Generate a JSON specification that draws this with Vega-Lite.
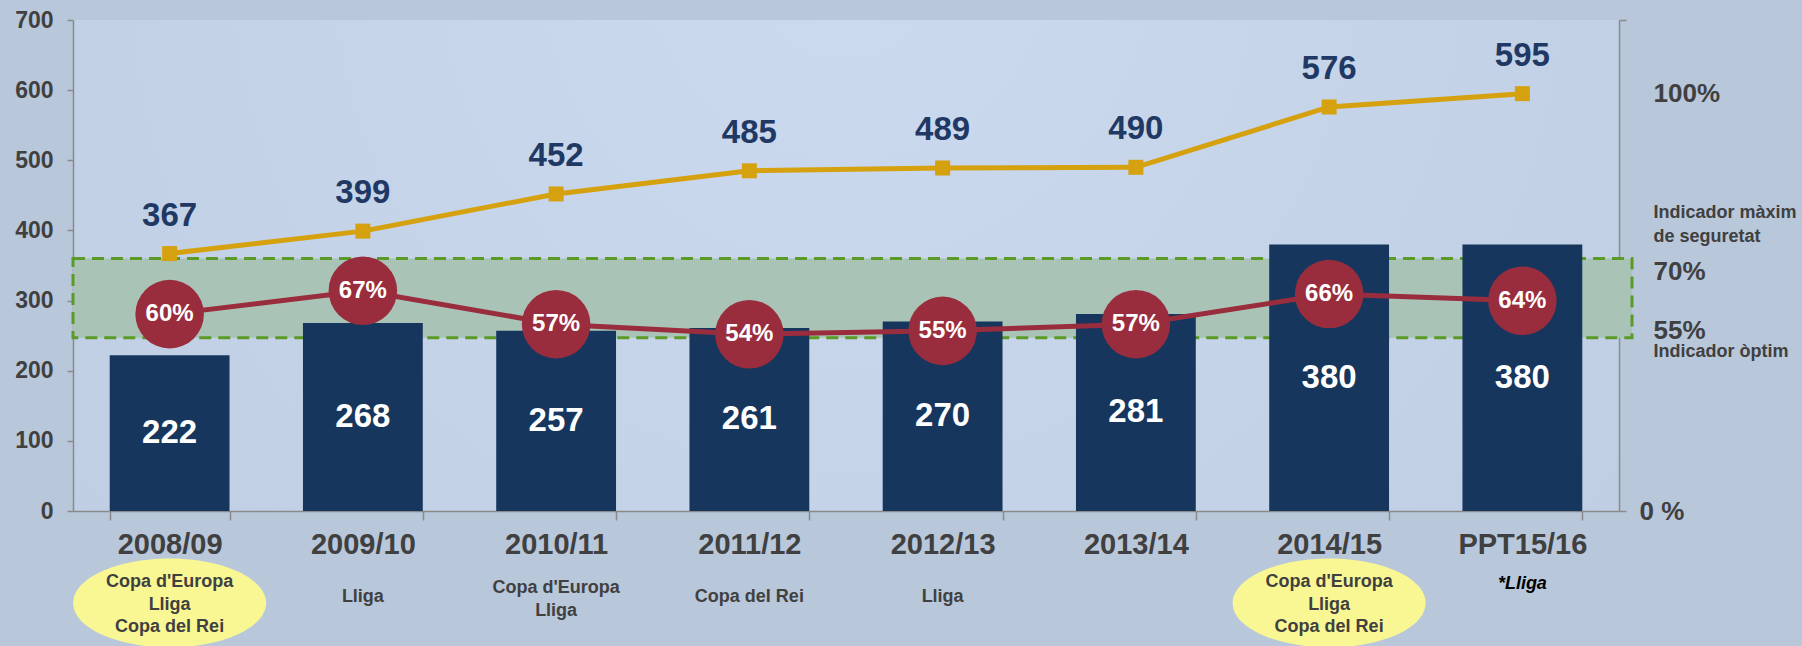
{
  "$schema": "https://vega.github.io/schema/vega-lite/v6.json",
  "width": 1546,
  "height": 491,
  "autosize": {"type": "none"},
  "padding": {"left": 73, "top": 20, "right": 183, "bottom": 135},
  "background": "#b8c7da",
  "config": {"view": {"stroke": null, "fill": {"gradient": "radial", "x1": 0.5, "y1": 0.3, "x2": 0.5, "y2": 0.3, "r1": 0, "r2": 0.8, "stops": [{"offset": 0, "color": "#cbdaef"}, {"offset": 1, "color": "#bccbdf"}]}}, "font": "Liberation Sans"},
  "data": {"values": [
    {"temporada": "2008/09", "barra": 222, "linia": 367, "percentatge": 0.60, "titols": ["Copa d'Europa", "Lliga", "Copa del Rei"]},
    {"temporada": "2009/10", "barra": 268, "linia": 399, "percentatge": 0.67, "titols": ["Lliga"]},
    {"temporada": "2010/11", "barra": 257, "linia": 452, "percentatge": 0.57, "titols": ["Copa d'Europa", "Lliga"]},
    {"temporada": "2011/12", "barra": 261, "linia": 485, "percentatge": 0.54, "titols": ["Copa del Rei"]},
    {"temporada": "2012/13", "barra": 270, "linia": 489, "percentatge": 0.55, "titols": ["Lliga"]},
    {"temporada": "2013/14", "barra": 281, "linia": 490, "percentatge": 0.57, "titols": []},
    {"temporada": "2014/15", "barra": 380, "linia": 576, "percentatge": 0.66, "titols": ["Copa d'Europa", "Lliga", "Copa del Rei"]},
    {"temporada": "PPT15/16", "barra": 380, "linia": 595, "percentatge": 0.64, "titols": ["*Lliga"]}
  ]},
  "layer": [
    {
      "data": {"values": [{"zona": "Indicador òptim - Indicador màxim de seguretat", "min": 247, "max": 360}]},
      "mark": {"type": "rect", "fill": "#a9c4b7", "stroke": "#5b9a26", "strokeDash": [12, 7], "strokeWidth": 3, "xOffset": 13, "x2Offset": 15},
      "encoding": {
        "y": {"field": "min", "type": "quantitative", "scale": {"domain": [0, 700], "nice": false, "zero": true},
          "axis": {
            "orient": "right", "title": null, "grid": false,
            "values": [0, 227, 258, 341, 392, 425, 595, 700],
            "labelExpr": "datum.value == 0 ? '0 %' : datum.value == 227 ? 'Indicador òptim' : datum.value == 258 ? '55%' : datum.value == 341 ? '70%' : datum.value == 392 ? 'de seguretat' : datum.value == 425 ? 'Indicador màxim' : datum.value == 595 ? '100%' : ''",
            "labelFont": "Liberation Sans", "labelFontWeight": "bold", "labelColor": "#404040",
            "labelFontSize": {"condition": {"test": "datum.value == 227 || datum.value == 392 || datum.value == 425", "value": 18}, "value": 26},
            "labelPadding": {"condition": {"test": "datum.value == 0", "value": 13}, "value": 27},
            "labelAlign": "left", "labelBaseline": "middle", "labelOverlap": false, "labelBound": false, "labelFlush": false,
            "tickOpacity": {"condition": {"test": "datum.value == 0 || datum.value == 700", "value": 1}, "value": 0},
            "tickSize": 7, "tickColor": "#8a8a8a", "tickWidth": 1.5,
            "domainColor": "#8a8a8a", "domainWidth": 1.5
          }},
        "y2": {"field": "max"}
      }
    },
    {
      "encoding": {
        "x": {"field": "temporada", "type": "nominal", "sort": null,
          "scale": {"paddingInner": 0.38, "paddingOuter": 0.19},
          "axis": {"title": null, "labelAngle": 0, "labelFont": "Liberation Sans", "labelFontSize": 29, "labelFontWeight": "bold", "labelColor": "#404040",
            "domainColor": "#8a8a8a", "domainWidth": 1.5, "tickColor": "#8a8a8a", "tickWidth": 1.5, "tickSize": 9, "tickBand": "extent", "labelPadding": 10}}
      },
      "layer": [
        {
          "layer": [
            {
              "mark": {"type": "bar", "color": "#17365d"},
              "encoding": {"y": {"field": "barra", "type": "quantitative", "scale": {"domain": [0, 700], "nice": false},
                "axis": {"title": null, "grid": false, "values": [0, 100, 200, 300, 400, 500, 600, 700],
                  "labelFont": "Liberation Sans", "labelFontSize": 23, "labelFontWeight": "bold", "labelColor": "#404040",
                  "tickSize": 6, "tickColor": "#8a8a8a", "tickWidth": 1.5, "domainColor": "#8a8a8a", "domainWidth": 1.5, "labelPadding": 14}}}
            },
            {
              "mark": {"type": "line", "color": "#d6a10f", "strokeWidth": 5},
              "encoding": {"y": {"field": "linia", "type": "quantitative", "title": null}}
            },
            {
              "mark": {"type": "point", "shape": "square", "filled": true, "size": 225, "color": "#d6a10f", "opacity": 1},
              "encoding": {"y": {"field": "linia", "type": "quantitative", "title": null}}
            },
            {
              "mark": {"type": "text", "dy": -38, "fontSize": 33, "fontWeight": "bold", "color": "#1f3864", "font": "Liberation Sans"},
              "encoding": {"y": {"field": "linia", "type": "quantitative", "title": null}, "text": {"field": "linia", "type": "quantitative"}}
            },
            {
              "transform": [{"filter": "length(datum.titols) == 3"}],
              "mark": {"type": "point", "shape": "M -1 0 A 1 0.46 0 1 1 1 0 A 1 0.46 0 1 1 -1 0 Z", "filled": true, "size": 37249, "color": "#f9f794", "opacity": 1, "yOffset": 92},
              "encoding": {"y": {"datum": 0}}
            },
            {
              "transform": [{"filter": "datum.temporada != 'PPT15/16' && length(datum.titols) == 1"}],
              "mark": {"type": "text", "dy": 86, "fontSize": 18, "fontWeight": "bold", "color": "#404040", "font": "Liberation Sans", "baseline": "middle"},
              "encoding": {"y": {"datum": 0}, "text": {"field": "titols", "type": "nominal"}}
            },
            {
              "transform": [{"filter": "length(datum.titols) == 2"}],
              "mark": {"type": "text", "dy": 77, "fontSize": 18, "fontWeight": "bold", "color": "#404040", "lineHeight": 23, "font": "Liberation Sans", "baseline": "middle"},
              "encoding": {"y": {"datum": 0}, "text": {"field": "titols", "type": "nominal"}}
            },
            {
              "transform": [{"filter": "length(datum.titols) == 3"}],
              "mark": {"type": "text", "dy": 71, "fontSize": 18, "fontWeight": "bold", "color": "#404040", "lineHeight": 22.5, "font": "Liberation Sans", "baseline": "middle"},
              "encoding": {"y": {"datum": 0}, "text": {"field": "titols", "type": "nominal"}}
            },
            {
              "transform": [{"filter": "datum.temporada == 'PPT15/16'"}],
              "mark": {"type": "text", "dy": 73, "fontSize": 18, "fontWeight": "bold", "fontStyle": "italic", "color": "#000000", "font": "Liberation Sans", "baseline": "middle"},
              "encoding": {"y": {"datum": 0}, "text": {"field": "titols", "type": "nominal"}}
            }
          ]
        },
        {
          "mark": {"type": "text", "fontSize": 33, "fontWeight": "bold", "color": "white", "font": "Liberation Sans", "baseline": "middle"},
          "encoding": {
            "y": {"field": "barra", "type": "quantitative", "scale": {"domain": [0, 1400], "nice": false}, "axis": null},
            "text": {"field": "barra", "type": "quantitative"}
          }
        },
        {
          "encoding": {"y": {"field": "percentatge", "type": "quantitative", "scale": {"domain": [0.0117, 1.479], "nice": false, "zero": false}, "axis": null}},
          "layer": [
            {"mark": {"type": "line", "color": "#9a2d3d", "strokeWidth": 5}},
            {"mark": {"type": "point", "shape": "circle", "filled": true, "size": 4700, "color": "#9a2d3d", "opacity": 1}},
            {
              "mark": {"type": "text", "fontSize": 24, "fontWeight": "bold", "color": "white", "font": "Liberation Sans", "baseline": "middle"},
              "encoding": {"text": {"field": "percentatge", "type": "quantitative", "format": ".0%"}}
            }
          ]
        }
      ],
      "resolve": {"scale": {"y": "independent"}}
    }
  ],
  "resolve": {"scale": {"y": "independent"}}
}
